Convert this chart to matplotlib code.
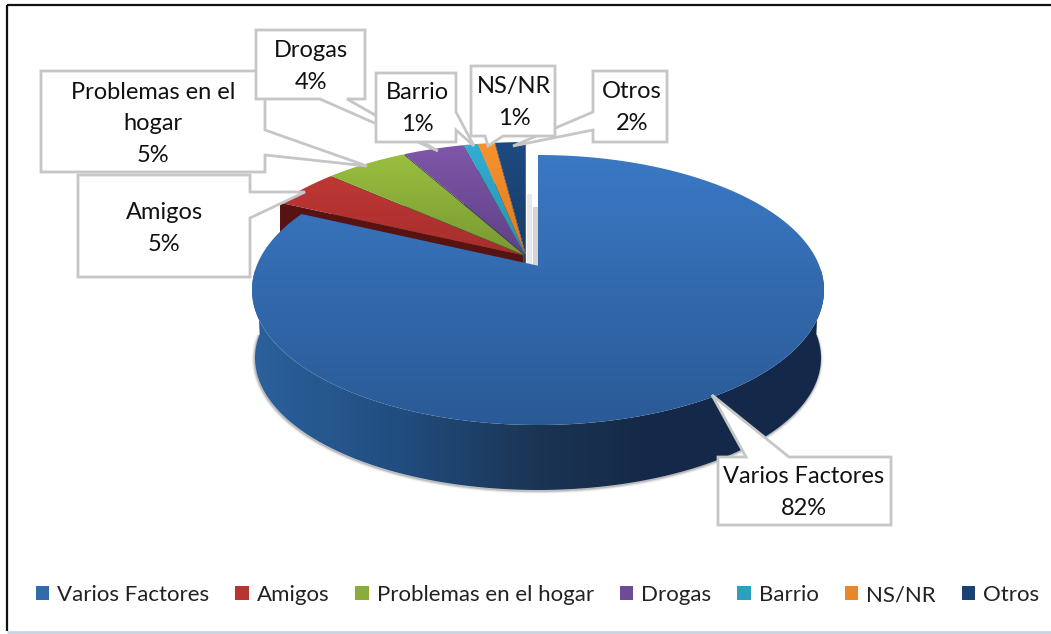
import numpy as np
import matplotlib
matplotlib.use("Agg")
import matplotlib.pyplot as plt
from matplotlib.patches import Polygon, Patch, Rectangle
from matplotlib.colors import to_rgb

# ---- data ----
categories = ["Varios Factores", "Amigos", "Problemas en el hogar", "Drogas", "Barrio", "NS/NR", "Otros"]
values = [82.0, 4.6, 5.4, 4.0, 0.9, 1.1, 2.0]
pct_labels = ["82%", "5%", "5%", "4%", "1%", "1%", "2%"]
label_names = ["Varios Factores", "Amigos", "Problemas en el\nhogar", "Drogas", "Barrio", "NS/NR", "Otros"]

# ---- style ----
top_light = ["#3b79c5", "#ca3b39", "#9dc340", "#7f57a9", "#31aed2", "#f7922d", "#1e4a80"]
top_dark = ["#2a5a96", "#a32d2b", "#779632", "#5d3f84", "#2790ad", "#d97a22", "#173b68"]
wall_dark = ["#14284a", "#571312", "#4a6320", "#3a2858", "#1a6f88", "#a85c16", "#10284a"]
wall_stops = [(252, "#2b619c"), (400, "#214d7f"), (540, "#1b3453"), (640, "#152a49"), (824, "#14284a")]
FONT = "Lato"
FS = 17.0
LEG_FS = 16.0
EDGE = "#c6c6c6"

fig = plt.figure(figsize=(10.51, 6.34), dpi=100)
ax = fig.add_axes([0, 0, 1, 1])
ax.set_axis_off()

A = -0.18
K = np.sqrt(1 - A ** 2)
DEPTH = 65


def project(frac, geom, r=1.0):
    cx, cy, rx, ry = geom
    th = 2 * np.pi * np.asarray(frac, dtype=float)
    u, v = r * np.sin(th), -r * np.cos(th)
    d = 1 + A * v
    return cx + rx * u * K / d, cy + ry * (v + A) / d


def grad_fill(poly, stops, extent, vertical=True, z=1):
    n = 256
    pos = np.array([s[0] for s in stops], float)
    cols = np.array([to_rgb(s[1]) for s in stops])
    lo, hi = (extent[2], extent[3]) if vertical else (extent[0], extent[1])
    t = np.linspace(lo, hi, n)
    img = np.stack([np.interp(t, pos, cols[:, i]) for i in range(3)], axis=1)
    img = img[:, None, :] if vertical else img[None, :, :]
    im = ax.imshow(img, origin="lower", aspect="auto", interpolation="bilinear",
                   extent=(extent[0], extent[1], extent[2], extent[3]), zorder=z)
    p = Polygon(poly, closed=True, transform=ax.transData, fc="none", ec="none")
    ax.add_patch(p)
    im.set_clip_path(p)


fractions = np.array(values) / sum(values)
starts = np.concatenate([[0], np.cumsum(fractions)[:-1]])
ends = starts + fractions

BLUE_GEOM = (538, 290, 286, 135)
FLOOR_GEOM = (538, 358, 283, 132)
REST_GEOM = (526, 280.7, 294, 137)
EXPLODE = 0.012

# gray drop-shadow in the gap beside the first slice
ax.add_patch(Rectangle((527, 194), 5, 71, fc="#e8e8e8", ec="none", zorder=1))
ax.add_patch(Rectangle((533, 207), 5, 59, fc="#d4d4d4", ec="none", zorder=1))

# back-to-front: last slice first, slice 1 (Amigos) closest among the small ones
z = 2
for i in range(len(values) - 1, 0, -1):
    f = np.linspace(starts[i], ends[i], 40)
    mid = (starts[i] + ends[i]) / 2 * 2 * np.pi
    dx = EXPLODE * REST_GEOM[2] * np.sin(mid)
    dy = -EXPLODE * REST_GEOM[3] * np.cos(mid)
    ax0, ay0 = project(0, REST_GEOM, r=0.0)
    x, y = project(f, REST_GEOM)
    x, y = x + dx, y + dy
    apex = (ax0 + dx, ay0 + dy)
    wall = [apex, (x[0], y[0]), (x[0], y[0] + DEPTH), (apex[0], apex[1] + DEPTH)]
    ax.add_patch(Polygon(wall, closed=True, fc=wall_dark[i], ec="none", zorder=z))
    z += 1
    poly = np.vstack([[apex], np.column_stack([x, y])])
    grad_fill(poly, [(144, top_light[i]), (262, top_dark[i])], (240, 560, 140, 270), z=z)
    z += 1

# main slice: curved wall, soft shadow, and top face
f = np.linspace(0.25, 0.75, 400)
xt, yt = project(f, BLUE_GEOM)
xb, yb = project(f, FLOOR_GEOM)
for lw, alpha in [(4, 0.06), (2.5, 0.12), (1.2, 0.22)]:
    ax.plot(xb - 0.5, yb + 1, color="#404040", lw=lw, alpha=alpha, solid_capstyle="butt", zorder=z)
z += 1
wall_poly = np.vstack([np.column_stack([xt, yt]), np.column_stack([xb, yb])[::-1]])
grad_fill(wall_poly, wall_stops, (250, 826, 270, 500), vertical=False, z=z)
z += 1

f = np.linspace(0, ends[0], 500)
x, y = project(f, BLUE_GEOM)
apex = project(0, BLUE_GEOM, r=0.0)
poly = np.vstack([[apex], np.column_stack([x, y])])
grad_fill(poly, [(154, top_light[0]), (425, top_dark[0])], (250, 826, 150, 430), z=z)
z += 1

# ---- callouts (layout only) ----
callouts = {
    1: [(78, 175), (250, 175), (250, 192), (305, 192), (250, 218), (250, 277), (78, 277)],
    2: [(41, 71), (265, 71), (265, 130), (367, 166), (265, 155), (265, 172), (41, 172)],
    3: [(256, 30), (365, 30), (365, 99), (347, 99), (438, 151), (320, 99), (256, 99)],
    4: [(376, 73), (456, 73), (456, 112), (474, 146), (456, 130), (456, 142), (376, 142)],
    6: [(593, 71), (667, 71), (667, 142), (593, 142), (593, 130), (513, 146), (593, 112)],
    5: [(471, 66), (555, 66), (555, 136), (503, 136), (488, 146), (485, 136), (471, 136)],
    0: [(718, 457), (746, 457), (712, 395), (789, 457), (891, 457), (891, 525), (718, 525)],
}
text_pos = {1: (164, 228.5), 2: (153, 124), 3: (311, 66.5), 4: (417, 108.5), 5: (514, 102.5), 6: (632, 107.5),
            0: (804, 492.5)}
for i, pts in callouts.items():
    z += 1
    ax.add_patch(Polygon(pts, closed=True, fc="white", ec=EDGE, lw=2, joinstyle="miter", zorder=z))
    ax.text(*text_pos[i], f"{label_names[i]}\n{pct_labels[i]}", ha="center", va="center",
            family=FONT, fontsize=FS, color="#111111", linespacing=1.6, zorder=z)

# ---- frame ----
ax.plot([6.5, 1051], [4.5, 4.5], color="#111111", lw=1.6, zorder=z + 1, solid_capstyle="butt")
ax.plot([6.5, 6.5], [4.5, 631], color="#111111", lw=1.6, zorder=z + 1, solid_capstyle="butt")
ax.plot([6.5, 1051], [631.5, 631.5], color="#c5d5e6", lw=2, zorder=z + 1, solid_capstyle="butt")

ax.set_xlim(0, 1051)
ax.set_ylim(634, 0)

legend_colors = [tuple((np.array(to_rgb(a)) + np.array(to_rgb(b))) / 2) for a, b in zip(top_light, top_dark)]
handles = [Patch(fc=c, ec="none") for c in legend_colors]
leg = ax.legend(handles, categories, ncols=len(categories), frameon=False,
                loc="center left", bbox_to_anchor=(36 / 1051, 1 - 595 / 634), borderaxespad=0, borderpad=0,
                handlelength=0.6, handleheight=0.6, handletextpad=0.36, columnspacing=1.17,
                prop={"family": FONT, "size": LEG_FS})
for t in leg.get_texts():
    t.set_color("#222222")

fig.savefig("out.png", dpi=100)
